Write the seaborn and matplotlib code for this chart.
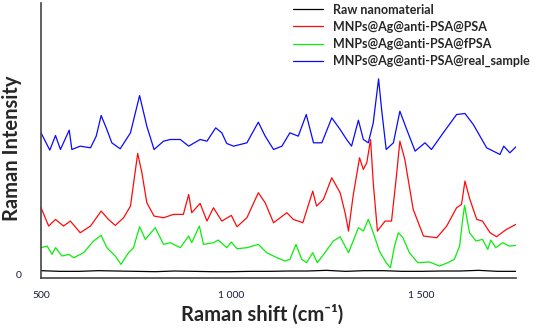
import pandas as pd
import seaborn as sns
import matplotlib.pyplot as plt

# Raman spectra (arbitrary intensity units)
raw_x = [500, 550, 600, 650, 700, 750, 800, 850, 900, 950, 1000, 1050, 1100, 1150,
         1200, 1250, 1300, 1350, 1400, 1450, 1500, 1550, 1600, 1650, 1700, 1748]
raw_y = [12, 10, 10, 12, 11, 10, 9, 11, 10, 9, 9, 10, 10, 11,
         11, 13, 10, 12, 12, 10, 10, 11, 11, 13, 10, 10]

psa_x = [500, 520, 538, 559, 577, 603, 630, 658, 677, 695, 717, 735, 754, 765, 778,
         797, 822, 848, 874, 888, 896, 918, 936, 953, 975, 1000, 1015, 1041, 1071,
         1089, 1111, 1146, 1163, 1188, 1214, 1224, 1242, 1264, 1286, 1299, 1308,
         1320, 1337, 1347, 1356, 1366, 1373, 1384, 1404, 1421, 1433, 1443, 1456,
         1478, 1505, 1540, 1566, 1592, 1605, 1614, 1627, 1645, 1660, 1680, 1697,
         1723, 1748]
psa_y = [201, 146, 166, 146, 161, 126, 146, 191, 166, 148, 171, 206, 364, 306, 216,
         176, 171, 181, 181, 241, 186, 214, 161, 201, 161, 178, 144, 171, 246,
         216, 156, 186, 166, 156, 251, 206, 226, 291, 246, 186, 131,
         236, 351, 316, 336, 406, 276, 131, 161, 161, 286, 401, 346,
         196, 116, 111, 146, 201, 211, 281, 226, 166, 161, 126, 114,
         136, 151]

fpsa_x = [500, 516, 529, 538, 555, 573, 586, 612, 638, 658, 673, 695, 710, 730, 743,
          759, 774, 800, 822, 840, 866, 888, 896, 916, 927, 953, 966, 988, 1000,
          1015, 1041, 1071, 1093, 1120, 1141, 1154, 1170, 1185, 1198, 1214, 1226,
          1246, 1268, 1286, 1308, 1334, 1347, 1360, 1373, 1389, 1407, 1418, 1429,
          1439, 1451, 1468, 1490, 1521, 1547, 1569, 1586, 1600, 1608, 1613, 1626,
          1643, 1660, 1674, 1682, 1695, 1713, 1730, 1748]
fpsa_y = [81, 86, 61, 81, 56, 61, 51, 66, 101, 118, 81, 56, 31, 66, 81,
          144, 106, 141, 91, 96, 81, 116, 96, 146, 91, 96, 104, 81, 98,
          78, 81, 91, 66, 51, 41, 46, 91, 46, 36, 66, 36,
          66, 101, 114, 66, 141, 131, 166, 126, 71, 36, 21, 86,
          126, 111, 66, 36, 38, 26, 36, 46, 86, 166, 208, 126,
          101, 106, 76, 104, 81, 96, 86, 88]

real_x = [500, 523, 538, 551, 574, 581, 603, 630, 645, 658, 673, 686, 708, 735, 759,
          778, 797, 822, 840, 866, 888, 918, 936, 959, 975, 988, 1006, 1041, 1071,
          1089, 1111, 1133, 1154, 1176, 1197, 1216, 1238, 1264, 1286, 1303, 1316,
          1334, 1347, 1360, 1373, 1387, 1395, 1407, 1426, 1443, 1461, 1483, 1509,
          1526, 1557, 1592, 1614, 1636, 1671, 1706, 1716, 1732, 1748]
real_y = [426, 374, 418, 376, 434, 376, 386, 381, 416, 478, 436, 396, 378, 426, 538,
          446, 376, 401, 406, 406, 386, 406, 401, 441, 426, 394, 386, 396, 458,
          416, 376, 386, 426, 416, 481, 396, 396, 471, 436, 406, 386,
          464, 406, 396, 456, 588, 496, 376, 396, 491, 436, 371, 396,
          376, 426, 481, 484, 451, 381, 361, 386, 366, 384]

names = ['Raw nanomaterial', 'MNPs@Ag@anti-PSA@PSA',
         'MNPs@Ag@anti-PSA@fPSA', 'MNPs@Ag@anti-PSA@real_sample']
colors = ['black', '#ff0a0a', '#0aee0a', '#0a0aff']

frames = []
for name, xs, ys in zip(names, [raw_x, psa_x, fpsa_x, real_x],
                        [raw_y, psa_y, fpsa_y, real_y]):
    frames.append(pd.DataFrame({'shift': xs, 'intensity': ys, 'sample': name}))
df = pd.concat(frames, ignore_index=True)

sns.set_style('white')
plt.rcParams['font.family'] = ['Lato', 'DejaVu Sans']

fig = plt.figure(figsize=(5.33, 3.29), dpi=100)
ax = fig.add_axes([0.077, 0.155, 0.891, 0.836])

sns.lineplot(data=df, x='shift', y='intensity', hue='sample', hue_order=names,
             palette=dict(zip(names, colors)), linewidth=0.9, ax=ax,
             estimator=None, sort=True)

ax.set_xlim(500, 1748)
ax.set_ylim(-10, 816)
ax.set_xticks([500, 1000, 1500])
ax.set_xticklabels(['500', '1 000', '1 500'])
ax.set_xticks([750, 1250], minor=True)
ax.set_yticks([0])
ax.set_yticklabels(['0'])
ax.tick_params(axis='x', which='both', direction='out', length=4, width=1,
               color='#444444', labelsize=7.5, labelcolor='#1a1a40', pad=5)
ax.tick_params(axis='y', direction='out', length=9, width=1, color='#444444',
               labelsize=7.5, labelcolor='#1a1a40', pad=5)
for s in ['top', 'right']:
    ax.spines[s].set_visible(False)
for s in ['left', 'bottom']:
    ax.spines[s].set_color('#444444')
    ax.spines[s].set_linewidth(1.2)

ax.set_xlabel('Raman shift (cm⁻¹)', fontsize=14.5, fontweight='bold')
ax.xaxis.set_label_coords(0.465, -0.095)
ax.set_ylabel('Raman Intensity', fontsize=14.5, fontweight='bold')
ax.yaxis.set_label_coords(-0.04, 0.47)

leg = ax.legend(loc='upper left', bbox_to_anchor=(0.52, 1.015), frameon=False,
                fontsize=9, handlelength=2.4, labelspacing=0.4,
                handletextpad=0.8, borderaxespad=0)
for t in leg.get_texts():
    t.set_fontweight('bold')

fig.savefig('out.png', dpi=100)
